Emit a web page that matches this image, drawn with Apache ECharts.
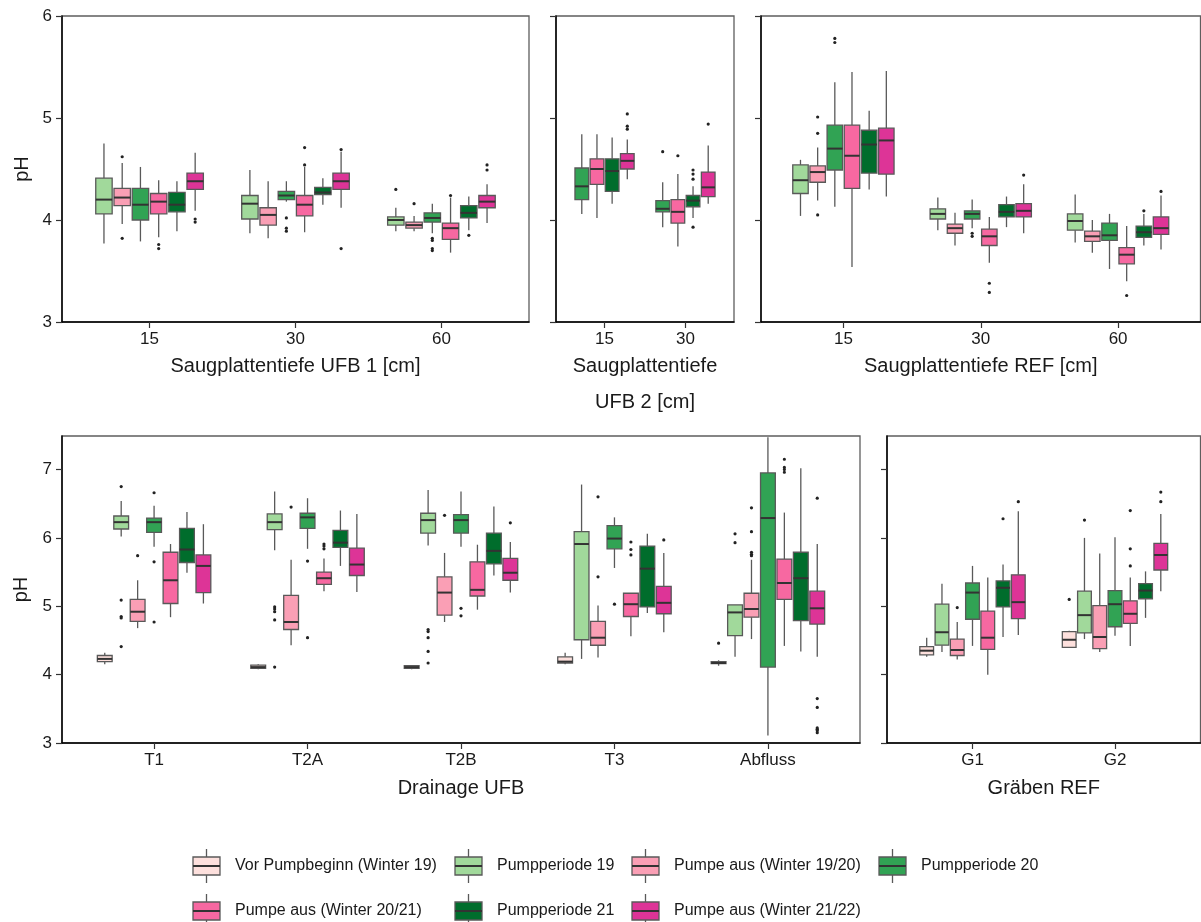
<!DOCTYPE html>
<html>
<head>
<meta charset="utf-8">
<script src="https://cdn.jsdelivr.net/npm/echarts@6/dist/echarts.min.js"></script>
<style>
  html, body { margin: 0; padding: 0; background: #ffffff; }
  #chart { width: 1201px; height: 922px; }
</style>
</head>
<body>
<div id="chart"></div>
<script>
// Measurement periods (legend order) and their fill colours
const groupNames = [
  'Vor Pumpbeginn (Winter 19)',
  'Pumpperiode 19',
  'Pumpe aus (Winter 19/20)',
  'Pumpperiode 20',
  'Pumpe aus (Winter 20/21)',
  'Pumpperiode 21',
  'Pumpe aus (Winter 21/22)'
];
const groupColors = ['#FDE0DD', '#A1D99B', '#FA9FB5', '#31A354', '#F768A1', '#006D2C', '#DD3497'];

// Box statistics are [min, Q1, median, Q3, max] of pH, one row per category,
// one entry per period listed in the panel's group array.
// Outliers are [category index, period index, pH].

// Suction plates, UFB 1
const ufb1Depths = ['15', '30', '60'];
const ufb1Groups = [1, 2, 3, 4, 5, 6];
const ufb1Boxes = [
  [[3.77, 4.06, 4.20, 4.41, 4.75], [3.96, 4.14, 4.22, 4.31, 4.56], [3.79, 4.00, 4.15, 4.31, 4.52], [3.83, 4.06, 4.18, 4.26, 4.39], [3.89, 4.08, 4.15, 4.27, 4.38], [4.09, 4.30, 4.38, 4.46, 4.66]],
  [[3.87, 4.01, 4.16, 4.24, 4.49], [3.82, 3.95, 4.05, 4.12, 4.38], [4.18, 4.20, 4.24, 4.28, 4.38], [3.88, 4.04, 4.15, 4.24, 4.52], [4.15, 4.25, 4.27, 4.32, 4.41], [4.12, 4.30, 4.38, 4.46, 4.67]],
  [[3.89, 3.95, 4.00, 4.03, 4.12], [3.89, 3.92, 3.95, 3.98, 4.04], [3.87, 3.98, 4.02, 4.07, 4.16], [3.68, 3.81, 3.92, 3.97, 4.22], [3.90, 4.02, 4.07, 4.14, 4.23], [3.97, 4.12, 4.18, 4.24, 4.35]]
];
const ufb1Outliers = [
  [0, 2, 4.62], [0, 2, 3.82], [0, 4, 3.76], [0, 4, 3.72], [0, 6, 4.01], [0, 6, 3.98],
  [1, 3, 4.02], [1, 3, 3.92], [1, 3, 3.89], [1, 4, 4.71], [1, 4, 4.54], [1, 6, 4.69], [1, 6, 3.72],
  [2, 1, 4.30], [2, 2, 4.16], [2, 3, 3.82], [2, 3, 3.80], [2, 3, 3.72], [2, 3, 3.70], [2, 4, 4.24],
  [2, 5, 3.85], [2, 6, 4.54], [2, 6, 4.49]
];

// Suction plates, UFB 2
const ufb2Depths = ['15', '30'];
const ufb2Groups = [3, 4, 5, 6];
const ufb2Boxes = [
  [[4.06, 4.20, 4.33, 4.51, 4.84], [4.02, 4.35, 4.50, 4.60, 4.84], [4.16, 4.28, 4.48, 4.60, 4.81], [4.40, 4.50, 4.58, 4.65, 4.79]],
  [[3.93, 4.08, 4.11, 4.19, 4.37], [3.74, 3.97, 4.08, 4.20, 4.45], [4.02, 4.13, 4.19, 4.24, 4.33], [4.16, 4.23, 4.32, 4.47, 4.73]]
];
const ufb2Outliers = [
  [0, 6, 5.04], [0, 6, 4.92], [0, 6, 4.89],
  [1, 3, 4.67], [1, 4, 4.63], [1, 5, 4.49], [1, 5, 4.45], [1, 5, 4.40], [1, 5, 3.93], [1, 6, 4.94]
];

// Suction plates, REF
const refDepths = ['15', '30', '60'];
const refGroups = [1, 2, 3, 4, 5, 6];
const refBoxes = [
  [[4.04, 4.26, 4.39, 4.54, 4.59], [4.19, 4.37, 4.47, 4.53, 4.71], [4.13, 4.49, 4.70, 4.93, 5.35], [3.54, 4.31, 4.63, 4.93, 5.45], [4.30, 4.46, 4.74, 4.88, 5.07], [4.23, 4.45, 4.78, 4.90, 5.46]],
  [[3.90, 4.01, 4.06, 4.11, 4.22], [3.75, 3.87, 3.92, 3.96, 4.07], [3.92, 4.01, 4.06, 4.09, 4.20], [3.58, 3.75, 3.84, 3.91, 4.03], [3.93, 4.03, 4.08, 4.15, 4.23], [3.87, 4.03, 4.09, 4.16, 4.35]],
  [[3.78, 3.90, 3.99, 4.06, 4.25], [3.68, 3.79, 3.84, 3.89, 4.00], [3.52, 3.80, 3.85, 3.97, 4.06], [3.40, 3.57, 3.66, 3.73, 3.94], [3.75, 3.83, 3.88, 3.94, 4.06], [3.71, 3.86, 3.92, 4.03, 4.24]]
];
const refOutliers = [
  [0, 2, 5.01], [0, 2, 4.85], [0, 2, 4.05], [0, 3, 5.78], [0, 3, 5.74],
  [1, 3, 3.87], [1, 3, 3.84], [1, 4, 3.38], [1, 4, 3.29], [1, 6, 4.44],
  [2, 4, 3.26], [2, 5, 4.09], [2, 6, 4.28]
];

// Drainage outlets, UFB
const drainSites = ['T1', 'T2A', 'T2B', 'T3', 'Abfluss'];
const drainGroups = [0, 1, 2, 3, 4, 5, 6];
const drainBoxes = [
  [[4.15, 4.19, 4.23, 4.28, 4.32], [6.02, 6.13, 6.23, 6.32, 6.54], [4.68, 4.78, 4.92, 5.10, 5.38], [5.87, 6.08, 6.23, 6.29, 6.47], [4.84, 5.04, 5.38, 5.79, 5.91], [5.49, 5.64, 5.83, 6.14, 6.38], [5.04, 5.20, 5.59, 5.75, 6.20]],
  [[4.08, 4.09, 4.11, 4.14, 4.15], [5.82, 6.12, 6.23, 6.35, 6.68], [4.43, 4.66, 4.77, 5.16, 5.68], [5.84, 6.14, 6.30, 6.36, 6.58], [5.22, 5.32, 5.41, 5.50, 5.70], [5.59, 5.86, 5.93, 6.11, 6.40], [5.21, 5.45, 5.61, 5.85, 6.35]],
  [[4.08, 4.09, 4.11, 4.13, 4.14], [5.89, 6.07, 6.26, 6.36, 6.70], [4.77, 4.87, 5.20, 5.43, 5.78], [5.87, 6.07, 6.26, 6.34, 6.68], [4.95, 5.15, 5.24, 5.65, 5.90], [5.45, 5.62, 5.81, 6.07, 6.46], [5.20, 5.38, 5.49, 5.70, 5.94]],
  [[4.15, 4.17, 4.19, 4.26, 4.32], [4.23, 4.51, 5.91, 6.09, 6.78], [4.25, 4.43, 4.54, 4.78, 5.01], [5.56, 5.84, 5.99, 6.18, 6.30], [4.56, 4.85, 5.03, 5.19, 5.19], [4.90, 4.99, 5.55, 5.88, 6.06], [4.62, 4.89, 5.05, 5.29, 5.78]],
  [[4.13, 4.16, 4.17, 4.19, 4.21], [4.26, 4.57, 4.91, 5.02, 5.02], [4.52, 4.84, 4.96, 5.19, 5.68], [3.11, 4.11, 6.29, 6.95, 7.47], [4.42, 5.10, 5.34, 5.69, 6.37], [4.34, 4.79, 5.41, 5.79, 7.02], [4.26, 4.74, 4.97, 5.22, 5.91]]
];
const drainOutliers = [
  [0, 1, 6.75], [0, 1, 5.09], [0, 1, 4.85], [0, 1, 4.83], [0, 1, 4.41], [0, 2, 5.74], [0, 3, 6.66], [0, 3, 5.65], [0, 3, 4.77],
  [1, 1, 4.99], [1, 1, 4.96], [1, 1, 4.92], [1, 1, 4.80], [1, 1, 4.11], [1, 2, 6.45], [1, 3, 5.66], [1, 3, 4.54], [1, 4, 5.91], [1, 4, 5.88], [1, 4, 5.84],
  [2, 1, 4.66], [2, 1, 4.63], [2, 1, 4.54], [2, 1, 4.34], [2, 1, 4.17], [2, 2, 6.33], [2, 3, 4.97], [2, 3, 4.86], [2, 6, 6.22],
  [3, 2, 6.60], [3, 2, 5.43], [3, 3, 5.03], [3, 4, 5.94], [3, 4, 5.83], [3, 4, 5.75], [3, 6, 5.97],
  [4, 0, 4.46], [4, 1, 6.06], [4, 1, 5.93], [4, 2, 6.44], [4, 2, 6.09], [4, 2, 5.79], [4, 2, 5.76], [4, 2, 5.74],
  [4, 4, 7.15], [4, 4, 7.03], [4, 4, 7.00], [4, 4, 6.96], [4, 6, 6.58], [4, 6, 3.65], [4, 6, 3.52], [4, 6, 3.22], [4, 6, 3.20], [4, 6, 3.18], [4, 6, 3.15]
];

// Ditches, REF
const ditchSites = ['G1', 'G2'];
const ditchGroups = [0, 1, 2, 3, 4, 5, 6];
const ditchBoxes = [
  [[4.26, 4.29, 4.35, 4.41, 4.54], [4.33, 4.43, 4.62, 5.03, 5.33], [4.22, 4.28, 4.36, 4.52, 4.77], [4.42, 4.81, 5.20, 5.34, 5.59], [4.00, 4.37, 4.54, 4.93, 5.42], [4.55, 4.99, 5.27, 5.37, 5.61], [4.58, 4.82, 5.06, 5.46, 6.39]],
  [[4.40, 4.40, 4.51, 4.63, 4.64], [4.52, 4.61, 4.87, 5.22, 6.00], [4.33, 4.38, 4.55, 5.01, 5.77], [4.57, 4.70, 5.03, 5.23, 6.01], [4.42, 4.75, 4.89, 5.08, 5.42], [4.83, 5.11, 5.23, 5.33, 5.51], [5.22, 5.53, 5.75, 5.92, 6.35]]
];
const ditchOutliers = [
  [0, 2, 4.98], [0, 5, 6.28], [0, 6, 6.53],
  [1, 0, 5.10], [1, 1, 6.26], [1, 4, 6.40], [1, 4, 5.84], [1, 4, 5.59], [1, 6, 6.67], [1, 6, 6.53]
];

// pH tick values
const pHTicksTop = [3, 4, 5, 6];
const pHTicksBottom = [3, 4, 5, 6, 7];

const FONT = "'Liberation Sans', Arial, sans-serif";
const TEXT = '#1a1a1a';
const EDGE = '#595959';

const panels = [
  { grid: { left: 62, top: 16, width: 467, height: 306 }, cats: ufb1Depths, groups: ufb1Groups, boxes: ufb1Boxes, outliers: ufb1Outliers,
    yMax: 6, yTicks: pHTicksTop, yLabels: true, xName: 'Saugplattentiefe UFB 1 [cm]', nameGap: 33 },
  { grid: { left: 556, top: 16, width: 178, height: 306 }, cats: ufb2Depths, groups: ufb2Groups, boxes: ufb2Boxes, outliers: ufb2Outliers,
    yMax: 6, yTicks: pHTicksTop, yLabels: false, xName: 'Saugplattentiefe\nUFB 2 [cm]', nameGap: 24, nameLineHeight: 36 },
  { grid: { left: 761, top: 16, width: 439.5, height: 306 }, cats: refDepths, groups: refGroups, boxes: refBoxes, outliers: refOutliers,
    yMax: 6, yTicks: pHTicksTop, yLabels: false, xName: 'Saugplattentiefe REF [cm]', nameGap: 33 },
  { grid: { left: 62, top: 436, width: 798, height: 307 }, cats: drainSites, groups: drainGroups, boxes: drainBoxes, outliers: drainOutliers,
    yMax: 7.49, yTicks: pHTicksBottom, yLabels: true, xName: 'Drainage UFB', nameGap: 34 },
  { grid: { left: 887, top: 436, width: 313.5, height: 307 }, cats: ditchSites, groups: ditchGroups, boxes: ditchBoxes, outliers: ditchOutliers,
    yMax: 7.49, yTicks: pHTicksBottom, yLabels: false, xName: 'Gräben REF', nameGap: 34 }
];

// Dodged box position: 0.75 of a category step is shared by the periods of a panel
function slotCentre(cat, slot, nSlots) {
  const step = 0.75 / nSlots;
  return cat + (slot - (nSlots - 1) / 2) * step;
}

function boxRenderer(nSlots) {
  const half = 0.75 / nSlots * 0.9 / 2;
  return function (params, api) {
    const xc = slotCentre(api.value(0), api.value(1), nSlots);
    const color = groupColors[api.value(2)];
    const lo = api.value(3), q1 = api.value(4), med = api.value(5), q3 = api.value(6), hi = api.value(7);
    const tl = api.coord([xc - half, q3]);
    const br = api.coord([xc + half, q1]);
    const pHi = api.coord([xc, hi]);
    const pLo = api.coord([xc, lo]);
    const m = api.coord([xc, med]);
    return {
      type: 'group',
      children: [
        { type: 'line', shape: { x1: pHi[0], y1: pHi[1], x2: pHi[0], y2: tl[1] }, style: { stroke: EDGE, lineWidth: 1.3 } },
        { type: 'line', shape: { x1: pLo[0], y1: br[1], x2: pLo[0], y2: pLo[1] }, style: { stroke: EDGE, lineWidth: 1.3 } },
        { type: 'rect', shape: { x: tl[0], y: tl[1], width: br[0] - tl[0], height: br[1] - tl[1] },
          style: { fill: color, stroke: EDGE, lineWidth: 1.3 } },
        { type: 'line', shape: { x1: tl[0], y1: m[1], x2: br[0], y2: m[1] }, style: { stroke: '#333333', lineWidth: 2 } }
      ]
    };
  };
}

function outlierRenderer(nSlots) {
  return function (params, api) {
    const xc = slotCentre(api.value(0), api.value(1), nSlots);
    const p = api.coord([xc, api.value(2)]);
    return { type: 'circle', shape: { cx: p[0], cy: p[1], r: 1.6 }, style: { fill: '#222222' } };
  };
}

const grids = [], xAxes = [], yAxes = [], series = [];

panels.forEach((p, i) => {
  const n = p.cats.length;
  grids.push(Object.assign({ show: true, borderColor: '#5e5e5e', borderWidth: 1.3, backgroundColor: '#ffffff' }, p.grid));
  const catTicks = p.cats.map((c, k) => k + 1);
  xAxes.push({
    type: 'value', gridIndex: i, min: 0.4, max: n + 0.6,
    axisLine: { show: true, onZero: false, lineStyle: { color: '#000000', width: 1.5 } },
    axisTick: { show: true, length: 6, customValues: catTicks, lineStyle: { color: '#333333', width: 1.2 } },
    axisLabel: { show: true, customValues: catTicks, margin: 9, color: TEXT, fontFamily: FONT, fontSize: 17,
      formatter: v => p.cats[Math.round(v) - 1] },
    splitLine: { show: false },
    name: p.xName, nameLocation: 'middle', nameGap: p.nameGap,
    nameTextStyle: { color: TEXT, fontFamily: FONT, fontSize: 20, lineHeight: p.nameLineHeight || 22 }
  });
  yAxes.push({
    type: 'value', gridIndex: i, min: 3, max: p.yMax,
    axisLine: { show: true, onZero: false, lineStyle: { color: '#000000', width: 1.5 } },
    axisTick: { show: true, length: 6, customValues: p.yTicks, lineStyle: { color: '#333333', width: 1.2 } },
    axisLabel: { show: p.yLabels, customValues: p.yTicks, margin: 10, color: TEXT, fontFamily: FONT, fontSize: 17 },
    splitLine: { show: false },
    name: p.yLabels ? 'pH' : '', nameLocation: 'middle', nameRotate: 90, nameGap: 30,
    nameTextStyle: { color: TEXT, fontFamily: FONT, fontSize: 20 }
  });

  const nSlots = p.groups.length;
  const boxData = [];
  p.boxes.forEach((row, c) => {
    row.forEach((s, k) => {
      boxData.push([c + 1, k, p.groups[k], s[0], s[1], s[2], s[3], s[4]]);
    });
  });
  series.push({
    type: 'custom', xAxisIndex: i, yAxisIndex: i, silent: true, clip: true,
    renderItem: boxRenderer(nSlots),
    encode: { x: 0, y: [3, 4, 5, 6, 7] },
    data: boxData
  });
  series.push({
    type: 'custom', xAxisIndex: i, yAxisIndex: i, silent: true, clip: true,
    renderItem: outlierRenderer(nSlots),
    encode: { x: 0, y: 2 },
    data: p.outliers.map(o => [o[0] + 1, p.groups.indexOf(o[1]), o[2]])
  });
});

// Legend: boxplot glyph + label, in two rows
const legendX = [193, 455, 632, 879];
const legendY = [866, 911];
const legend = groupNames.map((name, i) => {
  const row = i < 4 ? 0 : 1;
  const col = i < 4 ? i : i - 4;
  return {
    type: 'group', x: legendX[col], y: legendY[row], silent: true,
    children: [
      { type: 'line', shape: { x1: 13.5, y1: -17, x2: 13.5, y2: 17 }, style: { stroke: EDGE, lineWidth: 1.3 } },
      { type: 'rect', shape: { x: 0, y: -9, width: 27, height: 18 }, style: { fill: groupColors[i], stroke: EDGE, lineWidth: 1.3 } },
      { type: 'line', shape: { x1: 0, y1: 0, x2: 27, y2: 0 }, style: { stroke: '#333333', lineWidth: 2 } },
      { type: 'text', x: 42, y: 0, style: { text: name, fill: TEXT, font: '16px ' + FONT, verticalAlign: 'middle', align: 'left' } }
    ]
  };
});

const chart = echarts.init(document.getElementById('chart'));
chart.setOption({
  animation: false,
  backgroundColor: '#ffffff',
  grid: grids,
  xAxis: xAxes,
  yAxis: yAxes,
  series: series,
  graphic: legend
});
</script>
</body>
</html>
